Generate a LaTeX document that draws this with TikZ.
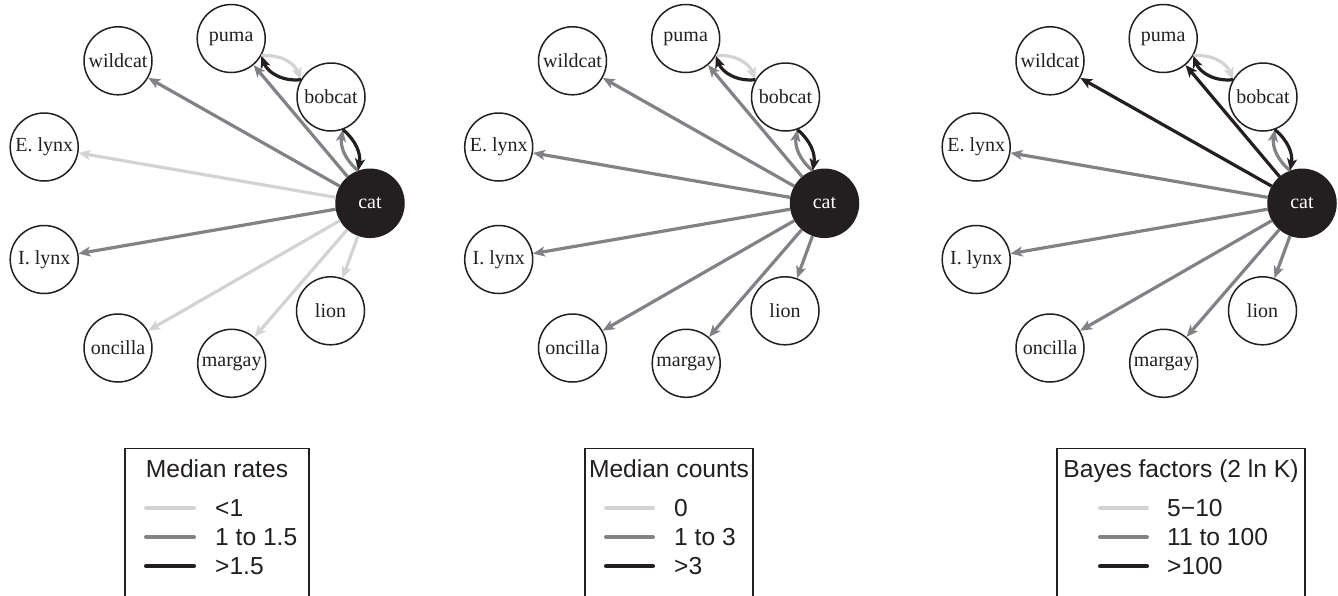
\documentclass[tikz,border=0pt]{standalone}
\usepackage{fontspec}
\setmainfont{Liberation Serif}
\newfontfamily\legfont{Liberation Sans}
\usetikzlibrary{arrows.meta}
\definecolor{c1}{HTML}{D1D3D4}
\definecolor{c2}{HTML}{808285}
\definecolor{c3}{HTML}{231F20}
\tikzset{
  felid/.style={circle, draw=c3, fill=white, line width=1.5pt, minimum size=68pt, inner sep=0pt,
    text=c3, font=\fontsize{20}{24}\selectfont},
  catnode/.style={felid, fill=c3, text=white},
  edge/.style={line width=3.2pt, -{Stealth[length=12pt,width=10pt,inset=3pt]}},
  legbox/.style={draw=c3, line width=1.5pt},
  legtitle/.style={anchor=base, text=c3, inner sep=0pt, font=\legfont\fontsize{24.6}{28}\selectfont},
  leglabel/.style={anchor=west, text=c3, inner sep=0pt, font=\legfont\fontsize{24.6}{28}\selectfont},
  legline/.style={line width=4pt, line cap=round},
}
\newcommand\felidnodes[2]{%
  \begin{scope}[xshift=#2pt]
    \node[felid] (#1puma) at (231.2,38.5) {puma};
    \node[felid] (#1wildcat) at (118,60.8) {wildcat};
    \node[felid] (#1bobcat) at (331,97) {bobcat};
    \node[felid] (#1elynx) at (44.2,147) {E. lynx};
    \node[felid] (#1ilynx) at (44.2,259.5) {I. lynx};
    \node[felid] (#1lion) at (330.5,310.8) {lion};
    \node[felid] (#1oncilla) at (118,348) {oncilla};
    \node[felid] (#1margay) at (231.7,363.3) {margay};
    \node[catnode] (#1cat) at (370,203.3) {cat};
  \end{scope}}
\newcommand\felidpairs[1]{%
  \draw[edge, draw=c2, -{Stealth[length=12pt,width=10pt,inset=3pt,fill=c2]}] (#1cat.110) to[bend left=30] (#1bobcat.-70);
  \draw[edge, draw=c3] (#1bobcat.-70) to[bend left=30] (#1cat.110);
  \draw[edge, draw=c1] (#1puma.-30) to[bend left=38] (#1bobcat.150);
  \draw[edge, draw=c3] (#1bobcat.150) to[bend left=38] (#1puma.-30);}
\begin{document}
\begin{tikzpicture}[x=1pt, y=-1pt]
\useasboundingbox[fill=white] (0,0) rectangle (1338,595);
% panel 1: median rates
\felidnodes{a}{0}
\foreach \t/\c in {puma/c2, wildcat/c2, elynx/c1, ilynx/c2, oncilla/c1, margay/c1, lion/c1}
  \draw[edge, draw=\c] (acat) -- (a\t);
\felidpairs{a}
% panel 2: median counts
\felidnodes{b}{454.5}
\foreach \t/\c in {puma/c2, wildcat/c2, elynx/c2, ilynx/c2, oncilla/c2, margay/c2, lion/c2}
  \draw[edge, draw=\c] (bcat) -- (b\t);
\felidpairs{b}
% panel 3: Bayes factors
\felidnodes{c}{932}
\foreach \t/\c in {puma/c3, wildcat/c3, elynx/c2, ilynx/c2, oncilla/c2, margay/c2, lion/c2}
  \draw[edge, draw=\c] (ccat) -- (c\t);
\felidpairs{c}
% legend 1
\draw[legbox] (125,597) -- (125,448.3) -- (309,448.3) -- (309,597);
\node[legtitle] (lt1) at (217,477.7) {Median rates};
\draw[legline, c1] (146,507.7) -- (194,507.7);
\draw[legline, c2] (146,537) -- (194,537);
\draw[legline, c3] (146,566.3) -- (194,566.3);
\node[leglabel] (la1) at (215,507.7) {<1};
\node[leglabel] (lb1) at (215,537) {1 to 1.5};
\node[leglabel] (lc1) at (215,566.3) {>1.5};
% legend 2
\draw[legbox] (585,597) -- (585,448.3) -- (753,448.3) -- (753,597);
\node[legtitle] (lt2) at (669,477.7) {Median counts};
\draw[legline, c1] (606,507.7) -- (653,507.7);
\draw[legline, c2] (606,537) -- (653,537);
\draw[legline, c3] (606,566.3) -- (653,566.3);
\node[leglabel] (la2) at (674,507.7) {0};
\node[leglabel] (lb2) at (674,537) {1 to 3};
\node[leglabel] (lc2) at (674,566.3) {>3};
% legend 3
\draw[legbox] (1057,597) -- (1057,448.3) -- (1305,448.3) -- (1305,597);
\node[legtitle] (lt3) at (1181,477.7) {Bayes factors (2 ln K)};
\draw[legline, c1] (1100,507.7) -- (1147,507.7);
\draw[legline, c2] (1100,537) -- (1147,537);
\draw[legline, c3] (1100,566.3) -- (1147,566.3);
\node[leglabel] (la3) at (1167,507.7) {5−10};
\node[leglabel] (lb3) at (1167,537) {11 to 100};
\node[leglabel] (lc3) at (1167,566.3) {>100};
\end{tikzpicture}
\end{document}
